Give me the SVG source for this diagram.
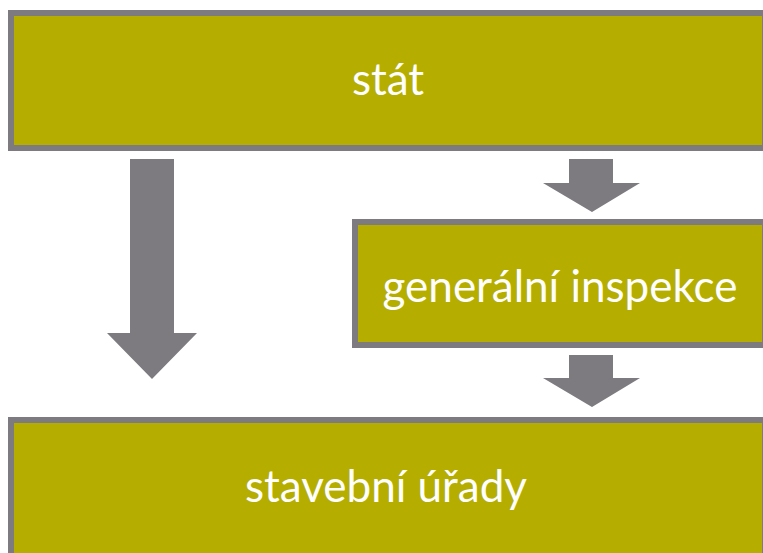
<svg xmlns="http://www.w3.org/2000/svg" width="763" height="553" viewBox="0 0 763 553">
<style>
.box{fill:#b5ae00;stroke:#7d7a80;stroke-width:6}
.arrow{fill:#7d7a80}
.lbl{fill:#ffffff;font-family:Lato,"Open Sans",sans-serif;font-size:44px;text-anchor:middle}
</style>
<rect width="763" height="553" fill="#ffffff"/>
<g id="connectors">
<polygon class="arrow" points="130,159 174,159 174,333 197,333 152,379 107,333 130,333"/>
<polygon class="arrow" points="569,159 613,159 613,183 640,183 592,212 543,183 569,183"/>
<polygon class="arrow" points="569,355 613,355 613,378 640,378 592,407 543,378 569,378"/>
</g>
<g id="stat">
<rect class="box" x="11" y="13" width="754" height="135"/>
<text class="lbl" x="388" y="95">stát</text>
</g>
<g id="generalni-inspekce">
<rect class="box" x="355" y="222" width="410" height="123"/>
<text class="lbl" x="560" y="302">generální inspekce</text>
</g>
<g id="stavebni-urady">
<rect class="box" x="11" y="420" width="754" height="145"/>
<text class="lbl" x="386" y="502">stavební úřady</text>
</g>
</svg>
